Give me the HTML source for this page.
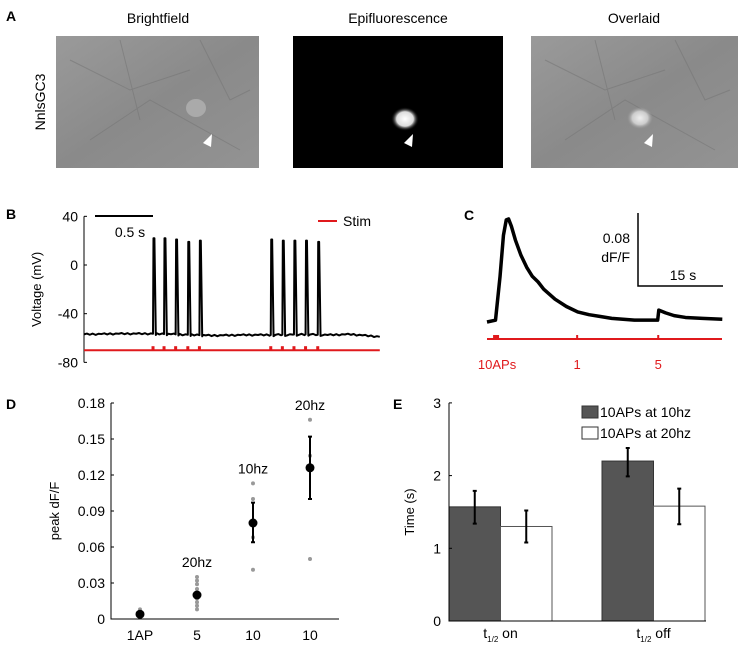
<!DOCTYPE html>
<html><head><meta charset="utf-8"><style>
body{margin:0;background:#fff;}
svg{display:block;font-family:"Liberation Sans",Arial,sans-serif;}
</style></head><body>
<svg width="738" height="648" viewBox="0 0 738 648">
<defs>
<radialGradient id="cell"><stop offset="0" stop-color="#fff"/><stop offset="0.6" stop-color="#ddd"/><stop offset="1" stop-color="#000" stop-opacity="0"/></radialGradient>
<radialGradient id="cell2"><stop offset="0" stop-color="#eee"/><stop offset="0.6" stop-color="#ccc"/><stop offset="1" stop-color="#999" stop-opacity="0"/></radialGradient>
<linearGradient id="bf" x1="0" y1="0" x2="1" y2="1"><stop offset="0" stop-color="#9a9a9a"/><stop offset="0.5" stop-color="#8a8a8a"/><stop offset="1" stop-color="#939393"/></linearGradient>
</defs>
<g>
<text x="6" y="21" font-size="14" font-weight="bold">A</text>
<text x="158" y="23" font-size="14" text-anchor="middle">Brightfield</text>
<text x="398" y="23" font-size="14" text-anchor="middle">Epifluorescence</text>
<text x="634" y="23" font-size="14" text-anchor="middle">Overlaid</text>
<text transform="translate(45,102) rotate(-90)" font-size="14" text-anchor="middle">NnlsGC3</text>
<g>
<rect x="56" y="36" width="203" height="132" fill="url(#bf)"/>
<path d="M70,60 L130,90 L190,70 M90,140 L150,100 L240,150 M120,40 L140,120 M200,40 L230,100 L250,90" stroke="#777" stroke-width="1" fill="none" opacity="0.6"/>
<ellipse cx="196" cy="108" rx="10" ry="9" fill="#aaa"/>
<polygon points="203,143 212,134 211,147" fill="#fff"/>
</g>
<g>
<rect x="293" y="36" width="210" height="132" fill="#000"/>
<ellipse cx="405" cy="119" rx="14" ry="12" fill="url(#cell)"/>
<polygon points="404,143 413,134 412,147" fill="#fff"/>
</g>
<g>
<rect x="531" y="36" width="207" height="132" fill="url(#bf)"/>
<path d="M545,60 L605,90 L665,70 M565,140 L625,100 L715,150 M595,40 L615,120 M675,40 L705,100 L730,90" stroke="#777" stroke-width="1" fill="none" opacity="0.6"/>
<ellipse cx="640" cy="118" rx="13" ry="11" fill="url(#cell2)"/>
<polygon points="644,143 653,134 652,147" fill="#fff"/>
</g>
</g>
<g id="pb"></g>
<g id="pc"></g>
<g id="pd"></g>
<g id="pe"></g>
</svg>
<script>
// ---- Panel B data ----
const bYTicks=[40,0,-40,-80];
const bSpikeTimes=[0.595,0.69,0.79,0.895,0.995,1.61,1.71,1.81,1.91,2.015];
const bSpikePeaks=[22,22,21,19,20,21,20,20,20,19];
const bBaseT=[0,0.3,0.59,0.8,1.1,1.4,1.6,1.9,2.1,2.3,2.55];
const bBaseV=[-57,-56.5,-56.5,-57,-58,-57.5,-57.5,-57,-57.5,-57,-59];
const bStimLevel=-70;
// ---- Panel C data ----
const cT=[0,1.5,2.3,2.9,3.4,3.8,4.3,5,6,7,8,9,10,12,14,16,18,20,22,24,26,28,30.1,30.3,31.5,33,35,38,41.5];
const cV=[0,0.002,0.05,0.095,0.112,0.113,0.105,0.09,0.073,0.06,0.05,0.044,0.036,0.025,0.017,0.011,0.008,0.006,0.004,0.003,0.002,0.002,0.002,0.013,0.01,0.007,0.005,0.004,0.003];
const cStimTimes=[1.6,15.9,30.2];
const cStimLabels=["10APs","1","5"];
// ---- Panel D data ----
const dCats=["1AP","5","10","10"];
const dMeans=[0.004,0.02,0.08,0.126];
const dErrLo=[0.004,0.02,0.064,0.1];
const dErrHi=[0.004,0.02,0.097,0.152];
const dDots=[[0.002,0.004,0.006,0.008],[0.008,0.011,0.014,0.017,0.02,0.025,0.029,0.032,0.035],[0.041,0.068,0.1,0.113],[0.05,0.136,0.166]];
const dAnnot=["","20hz","10hz","20hz"];
const dYTicks=[0,0.03,0.06,0.09,0.12,0.15,0.18];
// ---- Panel E data ----
const eCats=["on","off"];
const e10=[1.57,2.2];
const e20=[1.3,1.58];
const e10Lo=[1.34,1.99], e10Hi=[1.79,2.38];
const e20Lo=[1.08,1.33], e20Hi=[1.52,1.82];
const eYTicks=[0,1,2,3];

const NS="http://www.w3.org/2000/svg";
function mk(p,tag,at,txt){const e=document.createElementNS(NS,tag);for(const k in at)e.setAttribute(k,at[k]);if(txt!==undefined)e.textContent=txt;p.appendChild(e);return e;}

// ---- B ----
(function(){
const g=document.getElementById('pb');
const x=t=>84+t*116, y=v=>265-v*1.217;
mk(g,'text',{x:6,y:219,'font-size':14,'font-weight':'bold'},'B');
let a=mk(g,'line',{x1:84,y1:y(40),x2:84,y2:y(-80),stroke:'#000','stroke-width':1});


bYTicks.forEach(v=>{
 mk(g,'line',{x1:84,y1:y(v),x2:87,y2:y(v),stroke:'#000'});
 const l=mk(g,'text',{x:78,y:y(v)+5,'font-size':14,'text-anchor':'end'},String(v));
 
 
});
const yl=mk(g,'text',{transform:'translate(41,'+y(-20)+') rotate(-90)','font-size':13,'text-anchor':'middle'},'Voltage (mV)');


function base(tt){for(let i=0;i<bBaseT.length-1;i++){if(tt<=bBaseT[i+1]){const f=(tt-bBaseT[i])/(bBaseT[i+1]-bBaseT[i]);return bBaseV[i]+f*(bBaseV[i+1]-bBaseV[i]);}}return bBaseV[bBaseV.length-1];}
let pts=[];
const wig=[0,0.6,-0.4,0.5,-0.6,0.3];
for(let tt=0;tt<=2.55;tt+=0.025){
 pts.push([x(tt),y(base(tt)+wig[Math.round(tt*40)%6])]);
}
let out=[];
let si=0;
pts.forEach(p=>{
 while(si<bSpikeTimes.length&&x(bSpikeTimes[si])<=p[0]){
  const st=bSpikeTimes[si];
  out.push([x(st),y(base(st))]);
  out.push([x(st+0.004),y(bSpikePeaks[si])]);
  out.push([x(st+0.012),y(bSpikePeaks[si])]);
  out.push([x(st+0.024),y(base(st)-1)]);
  si++;
 }
 if(!(out.length&&p[0]<out[out.length-1][0]))out.push(p);
});
const tr=mk(g,'polyline',{points:out.map(p=>p.join(',')).join(' '),fill:'none',stroke:'#000','stroke-width':2,'stroke-linejoin':'round'});


const sl=mk(g,'line',{x1:x(0),y1:y(bStimLevel),x2:x(2.55),y2:y(bStimLevel),stroke:'#e0191c','stroke-width':2});


bSpikeTimes.forEach(st=>{
 const m=mk(g,'rect',{x:x(st)-1.5,y:y(bStimLevel)-4,width:3,height:4,fill:'#e0191c'});
 
 
});
const sb=mk(g,'line',{x1:95,y1:216,x2:153,y2:216,stroke:'#000','stroke-width':2});


mk(g,'text',{x:130,y:237,'font-size':14,'text-anchor':'middle'},'0.5 s');
const lg=mk(g,'line',{x1:318,y1:221,x2:337,y2:221,stroke:'#e0191c','stroke-width':2});


mk(g,'text',{x:343,y:226,'font-size':14},'Stim');
})();

// ---- C ----
(function(){
const g=document.getElementById('pc');
const x=t=>487+t*5.67, y=v=>322-v*912;
mk(g,'text',{x:464,y:220,'font-size':14,'font-weight':'bold'},'C');
const tr=mk(g,'polyline',{points:cT.map((t,i)=>x(t)+','+y(cV[i])).join(' '),fill:'none',stroke:'#000','stroke-width':3.5,'stroke-linejoin':'round'});


const sb=mk(g,'path',{d:'M638,213 L638,286 L723,286',fill:'none',stroke:'#000','stroke-width':1.5});


mk(g,'text',{x:630,y:243,'font-size':14,'text-anchor':'end'},'0.08');
mk(g,'text',{x:630,y:262,'font-size':14,'text-anchor':'end'},'dF/F');
mk(g,'text',{x:683,y:280,'font-size':14,'text-anchor':'middle'},'15 s');
const sl=mk(g,'line',{x1:487,y1:339,x2:722,y2:339,stroke:'#e0191c','stroke-width':2});


cStimTimes.forEach((st,i)=>{
 const w=i===0?6:2;
 const m=mk(g,'rect',{x:x(st)-w/2,y:335,width:w,height:4,fill:'#e0191c'});
 
 
 const l=mk(g,'text',{x:x(st)+(i===0?1:0),y:369,'font-size':13,'text-anchor':'middle',fill:'#e0191c'},cStimLabels[i]);
 
 
});
})();

// ---- D ----
(function(){
const g=document.getElementById('pd');
const y=v=>619-v*1200;
const cx=[140,197,253,310];
mk(g,'text',{x:6,y:409,'font-size':14,'font-weight':'bold'},'D');
const ax=mk(g,'path',{d:'M111,'+y(0.18)+' L111,619 L339,619',fill:'none',stroke:'#000'});


dYTicks.forEach(v=>{
 mk(g,'line',{x1:111,y1:y(v),x2:114,y2:y(v),stroke:'#000'});
 const l=mk(g,'text',{x:105,y:y(v)+5,'font-size':14,'text-anchor':'end'},String(v));
 
 
});
const yl=mk(g,'text',{transform:'translate(59,511) rotate(-90)','font-size':13,'text-anchor':'middle'},'peak dF/F');


dCats.forEach((c,i)=>{
 const l=mk(g,'text',{x:cx[i],y:640,'font-size':14,'text-anchor':'middle'},c);
 
 
 dDots[i].forEach(v=>{
  const d=mk(g,'circle',{cx:cx[i],cy:y(v),r:2,fill:'#999'});
  
  
 });
 if(dErrHi[i]>dErrLo[i]){
  const e=mk(g,'path',{d:`M${cx[i]},${y(dErrLo[i])}V${y(dErrHi[i])}M${cx[i]-2},${y(dErrLo[i])}h4M${cx[i]-2},${y(dErrHi[i])}h4`,stroke:'#000','stroke-width':2,fill:'none'});
  
  
 }
 const m=mk(g,'circle',{cx:cx[i],cy:y(dMeans[i]),r:4.5,fill:'#000'});
 
 
 if(dAnnot[i]){
  const top=Math.max(...dDots[i],dErrHi[i]);
  const a=mk(g,'text',{x:cx[i],y:y(top)-10,'font-size':14,'text-anchor':'middle'},dAnnot[i]);
  
  
 }
});
})();

// ---- E ----
(function(){
const g=document.getElementById('pe');
const y=v=>621-v*72.7;
const gx=[449,602], bw=51.5;
mk(g,'text',{x:393,y:409,'font-size':14,'font-weight':'bold'},'E');
eCats.forEach((c,i)=>{
 const b1=mk(g,'rect',{x:gx[i],y:y(e10[i]),width:bw,height:y(0)-y(e10[i]),fill:'#555',stroke:'#333'});
 
 
 const b2=mk(g,'rect',{x:gx[i]+bw,y:y(e20[i]),width:bw,height:y(0)-y(e20[i]),fill:'#fff',stroke:'#555'});
 
 
 [[gx[i]+bw/2,e10Lo[i],e10Hi[i]],[gx[i]+bw*1.5,e20Lo[i],e20Hi[i]]].forEach(([xx,lo,hi])=>{
  const e=mk(g,'path',{d:`M${xx},${y(lo)}V${y(hi)}M${xx-2},${y(lo)}h4M${xx-2},${y(hi)}h4`,stroke:'#000','stroke-width':2,fill:'none'});
  
  
 });
 const l=mk(g,'text',{x:gx[i]+bw,y:638,'font-size':14,'text-anchor':'middle'});
 
 
 mk(l,'tspan',{},'t');
 mk(l,'tspan',{'font-size':8,dy:4},'1/2');
 mk(l,'tspan',{dy:-4},' '+c);
});
const ax=mk(g,'path',{d:'M449,'+y(3)+' L449,621 L706,621',fill:'none',stroke:'#000'});


eYTicks.forEach(v=>{
 mk(g,'line',{x1:449,y1:y(v),x2:452,y2:y(v),stroke:'#000'});
 const l=mk(g,'text',{x:441,y:y(v)+5,'font-size':14,'text-anchor':'end'},String(v));
 
 
});
const yl=mk(g,'text',{transform:'translate(414,512) rotate(-90)','font-size':13,'text-anchor':'middle'},'Time (s)');


const s1=mk(g,'rect',{x:582,y:406,width:16,height:12,fill:'#555',stroke:'#333'});


mk(g,'text',{x:600,y:417,'font-size':14},'10APs at 10hz');
const s2=mk(g,'rect',{x:582,y:427,width:16,height:12,fill:'#fff',stroke:'#333'});


mk(g,'text',{x:600,y:438,'font-size':14},'10APs at 20hz');
})();
</script>
</body></html>
